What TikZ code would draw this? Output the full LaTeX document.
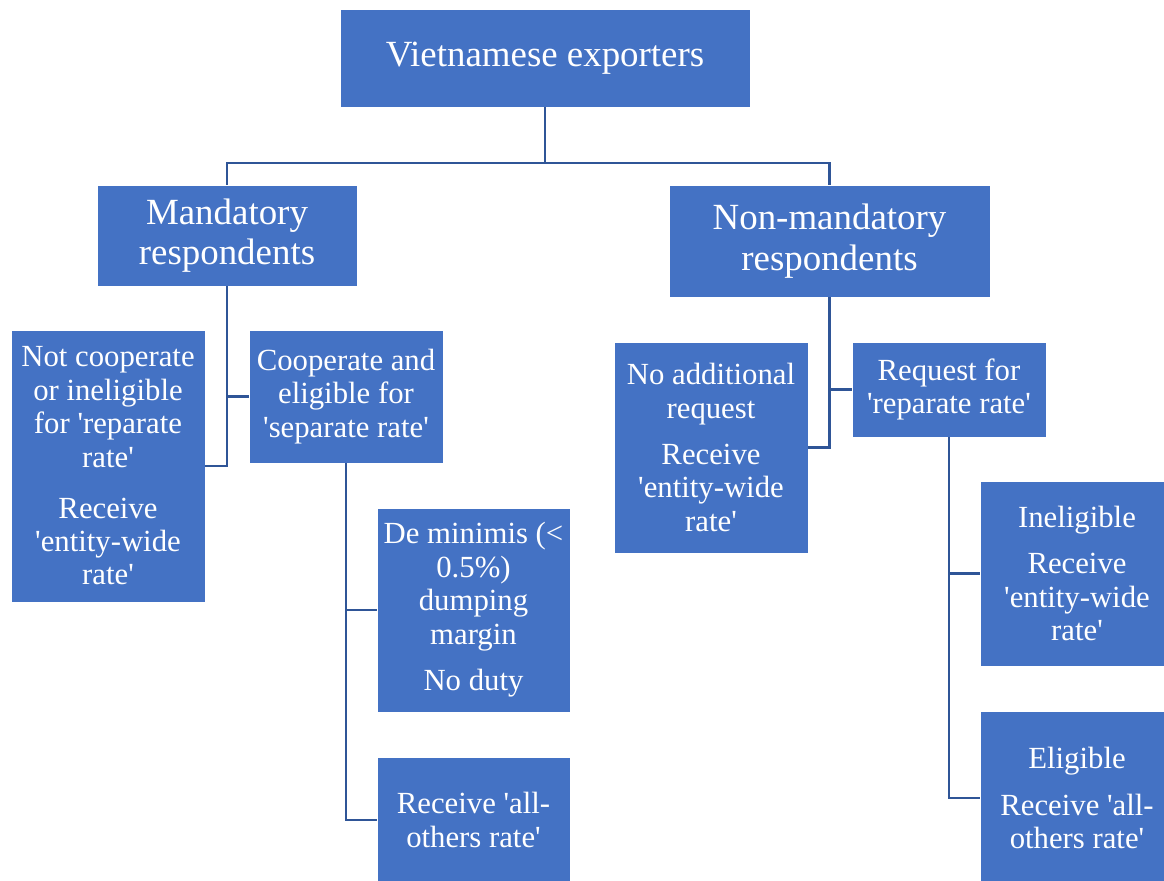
\documentclass[tikz,border=0pt]{standalone}
\usepackage{fontspec}
\newfontfamily\boxfont{Liberation Serif}
\usepackage{xcolor}
\definecolor{boxblue}{HTML}{4472C4}
\definecolor{linkblue}{HTML}{2F5597}

\begin{document}
\begin{tikzpicture}[x=0.02cm,y=-0.02cm,
    box/.style={draw=white,line width=0.4pt,fill=boxblue,text=white,
        align=center,inner sep=0pt,font=\boxfont\fontsize{17.5}{19}\selectfont},
    bigbox/.style={box,font=\boxfont\fontsize{21}{23}\selectfont},
    link/.style={draw=linkblue,line width=1.4pt}]
                \useasboundingbox (0,0) rectangle (1164,881);
                \fill[white] (0,0) rectangle (1164,881);
                % top level
                \node[bigbox,minimum width=8.2cm,minimum height=1.96cm] (top) at (545,58) {Vietnamese exporters};
                \node[bigbox,minimum width=5.2cm,minimum height=2.02cm] (mand) at (227,235.5) {Mandatory\\respondents};
                \node[bigbox,minimum width=6.42cm,minimum height=2.24cm] (nonm) at (829.5,241) {Non-mandatory\\respondents};
                \coordinate (hub) at (545,163);
                \draw[link] (top.south) -- (hub);
                \draw[link] (mand.north) -- (mand.north |- hub) -- (nonm.north |- hub) -- (nonm.north);
                % mandatory side
                \node[box,minimum width=3.88cm,minimum height=5.44cm] (notco) at (108,466) {Not cooperate\\or ineligible\\for 'reparate\\rate'\\[10pt]Receive\\'entity-wide\\rate'};
                \node[box,minimum width=3.88cm,minimum height=2.66cm] (coop) at (346,396.5) {Cooperate and\\eligible for\\'separate rate'};
                \node[box,minimum width=3.86cm,minimum height=4.08cm] (demin) at (473.5,610) {De minimis (<\\0.5\%)\\dumping\\margin\\[7.5pt]No duty};
                \node[box,minimum width=3.86cm,minimum height=2.52cm] (allo) at (473.5,820) {Receive 'all-\\others rate'};
                \draw[link] (mand.south) |- (coop.west);
                \draw[link] (mand.south) |- (notco.east);
                \draw[link] (coop.south) |- (demin.west);
                \draw[link] (coop.south) |- (allo.west);
                % non-mandatory side
                \node[box,minimum width=3.88cm,minimum height=4.22cm] (noadd) at (711,447.5) {No additional\\request\\[7.5pt]Receive\\'entity-wide\\rate'};
                \node[box,minimum width=3.88cm,minimum height=1.9cm] (req) at (949,389.5) {Request for\\'reparate rate'};
                \node[box,minimum width=3.88cm,minimum height=3.7cm] (inel) at (1077,573.5) {Ineligible\\[7.5pt]Receive\\'entity-wide\\rate'};
                \node[box,minimum width=3.88cm,minimum height=3.48cm] (elig) at (1077,798) {Eligible\\[7.5pt]Receive 'all-\\others rate'};
                \draw[link] (nonm.south) |- (req.west);
                \draw[link] (nonm.south) |- (noadd.east);
                \draw[link] (req.south) |- (inel.west);
                \draw[link] (req.south) |- (elig.west);
            \end{tikzpicture}
\end{document}
